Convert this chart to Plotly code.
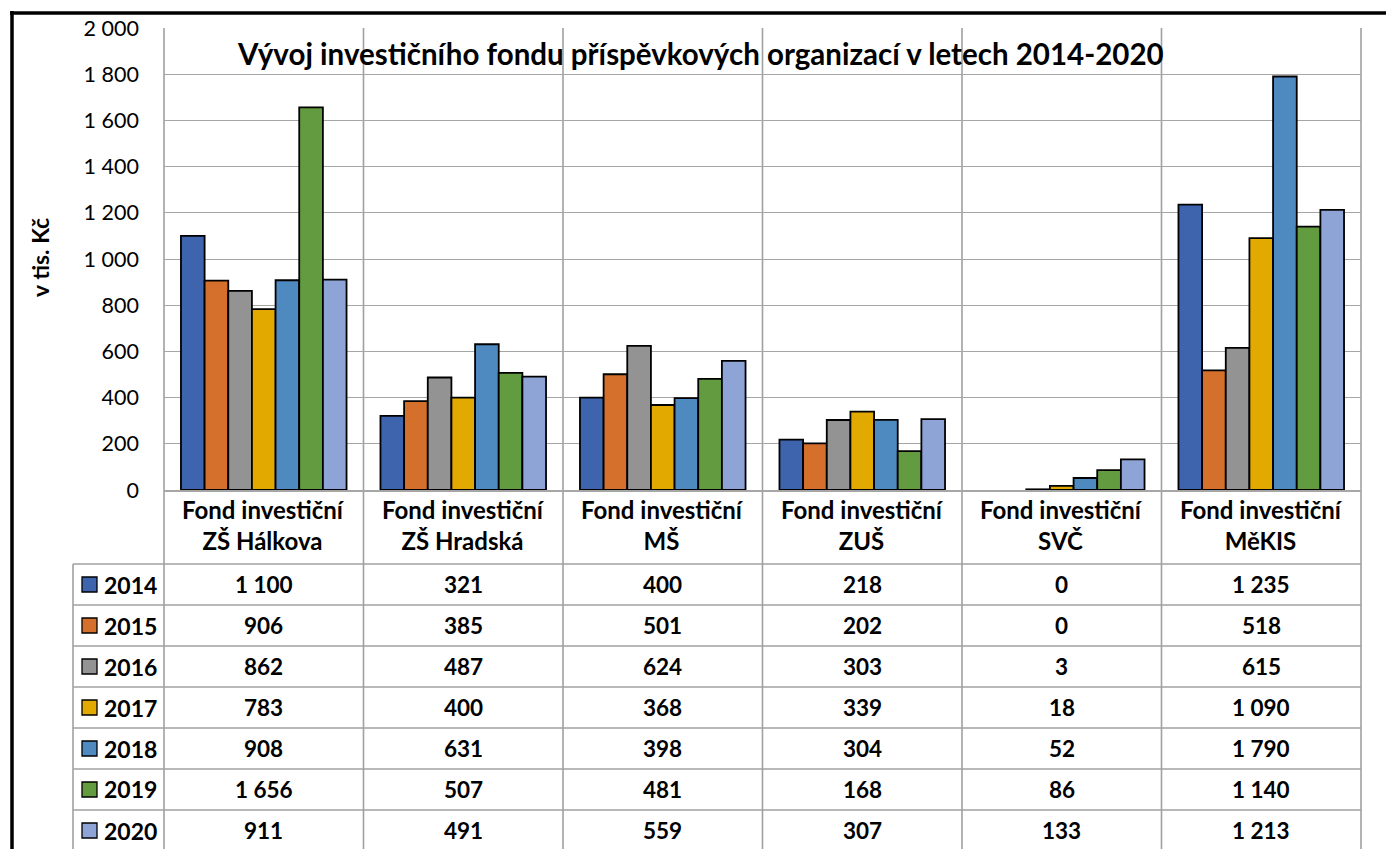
import plotly.graph_objects as go

categories = ["Fond investiční<br>ZŠ Hálkova", "Fond investiční<br>ZŠ Hradská",
              "Fond investiční<br>MŠ", "Fond investiční<br>ZUŠ",
              "Fond investiční<br>SVČ", "Fond investiční<br>MěKIS"]
cat_keys = ["ZŠ Hálkova", "ZŠ Hradská", "MŠ", "ZUŠ", "SVČ", "MěKIS"]
years = ["2014", "2015", "2016", "2017", "2018", "2019", "2020"]
values = {
    "2014": [1100, 321, 400, 218, 0, 1235],
    "2015": [906, 385, 501, 202, 0, 518],
    "2016": [862, 487, 624, 303, 3, 615],
    "2017": [783, 400, 368, 339, 18, 1090],
    "2018": [908, 631, 398, 304, 52, 1790],
    "2019": [1656, 507, 481, 168, 86, 1140],
    "2020": [911, 491, 559, 307, 133, 1213],
}
colors = ["#3E64AD", "#D4702C", "#939393", "#E2AA00", "#4E8AC0", "#629B40", "#8FA4D6"]
y_ticks = list(range(0, 2001, 200))

FONT = "Lato"
O = 8  # page body margin offset
W, H = 1394 - O, 849 - O
L, R, T, B = 164 - O, 1361 - O, 28 - O, 490 - O  # plot area in figure px
PW, PH = R - L, B - T

def fx(px):
    return (px - O - L) / PW

def fy(py):
    return (B - (py - O)) / PH

fig = go.Figure()
for yr, col in zip(years, colors):
    lw = [1.8 if v > 0 else 0 for v in values[yr]]
    fig.add_trace(go.Bar(x=cat_keys, y=values[yr], name=yr,
                         marker=dict(color=col, line=dict(color="black", width=lw))))

shapes = []
annotations = []
grid = "#A6A6A6"
tbl = "#A0A0A0"
ncat = len(cat_keys)
header_bottom = 564
row_h = 41
nrows = len(years)
table_bottom = header_bottom + row_h * nrows + 10

# vertical lines at category boundaries (plot + table)
for k in range(ncat + 1):
    xk = k / ncat
    shapes.append(dict(type="line", xref="paper", yref="paper", x0=xk, x1=xk,
                       y0=1, y1=fy(table_bottom), line=dict(color=tbl, width=1.6), layer="below"))
# legend column left edge
shapes.append(dict(type="line", xref="paper", yref="paper", x0=fx(73), x1=fx(73),
                   y0=fy(header_bottom), y1=fy(table_bottom), line=dict(color=tbl, width=1.6)))
# horizontal table lines
for i in range(nrows):
    yy = fy(header_bottom + row_h * i)
    shapes.append(dict(type="line", xref="paper", yref="paper", x0=fx(73), x1=1,
                       y0=yy, y1=yy, line=dict(color=tbl, width=1.6)))

# category headers
for k, c in enumerate(categories):
    annotations.append(dict(xref="paper", yref="paper", x=(k + 0.5) / ncat, y=fy(525),
                            text=c, showarrow=False, xanchor="center", yanchor="middle",
                            font=dict(family=FONT, size=24, color="black", weight="bold")))

# rows
for i, (yr, col) in enumerate(zip(years, colors)):
    yc = header_bottom + row_h * i + row_h / 2
    # legend key
    shapes.append(dict(type="rect", xref="paper", yref="paper", x0=fx(82), x1=fx(97),
                       y0=fy(yc - 7.5), y1=fy(yc + 7.5), fillcolor=col,
                       line=dict(color="black", width=1.3)))
    annotations.append(dict(xref="paper", yref="paper", x=fx(102), y=fy(yc), text=yr,
                            showarrow=False, xanchor="left", yanchor="middle",
                            font=dict(family=FONT, size=23, color="black", weight="bold")))
    for k, v in enumerate(values[yr]):
        annotations.append(dict(xref="paper", yref="paper", x=(k + 0.5) / ncat, y=fy(yc),
                                text=f"{v:,}".replace(",", " "), showarrow=False,
                                xanchor="center", yanchor="middle",
                                font=dict(family=FONT, size=22.5, color="black", weight="bold")))

# title
annotations.append(dict(xref="paper", yref="paper", x=fx(700), y=fy(54),
                        text="Vývoj investičního fondu příspěvkových organizací v letech 2014-2020",
                        showarrow=False, xanchor="center", yanchor="middle",
                        font=dict(family=FONT, size=29.5, color="black", weight="bold")))
# y-axis title
annotations.append(dict(xref="paper", yref="paper", x=fx(40), y=fy(258), text="v tis. Kč",
                        showarrow=False, textangle=-90, xanchor="center", yanchor="middle",
                        font=dict(family=FONT, size=23, color="black", weight="bold")))

# outer black frame (top and left)
shapes.append(dict(type="line", xref="paper", yref="paper", x0=fx(10), x1=fx(1400),
                   y0=fy(13), y1=fy(13), line=dict(color="black", width=3.5)))
shapes.append(dict(type="line", xref="paper", yref="paper", x0=fx(12), x1=fx(12),
                   y0=fy(11), y1=fy(860), line=dict(color="black", width=3.5)))

fig.update_layout(
    width=W, height=H,
    margin=dict(l=L, r=W - R, t=T, b=H - B, autoexpand=False),
    paper_bgcolor="white", plot_bgcolor="white",
    barmode="group", bargap=0.17, bargroupgap=0,
    showlegend=False,
    separators=", ",
    shapes=shapes, annotations=annotations,
    font=dict(family=FONT, color="black"),
)
fig.update_xaxes(range=[-0.5, ncat - 0.5], showticklabels=False, showgrid=False,
                 showline=True, linecolor=grid, linewidth=1.5, ticks="", zeroline=False)
fig.update_yaxes(range=[0, 2000], tickvals=y_ticks, tickformat=",d", showgrid=True,
                 gridcolor=grid, gridwidth=1, zeroline=False, showline=False, ticks="",
                 ticklabelstandoff=24, tickfont=dict(family=FONT, size=21.5, color="black"))

fig.write_html("out.html")
